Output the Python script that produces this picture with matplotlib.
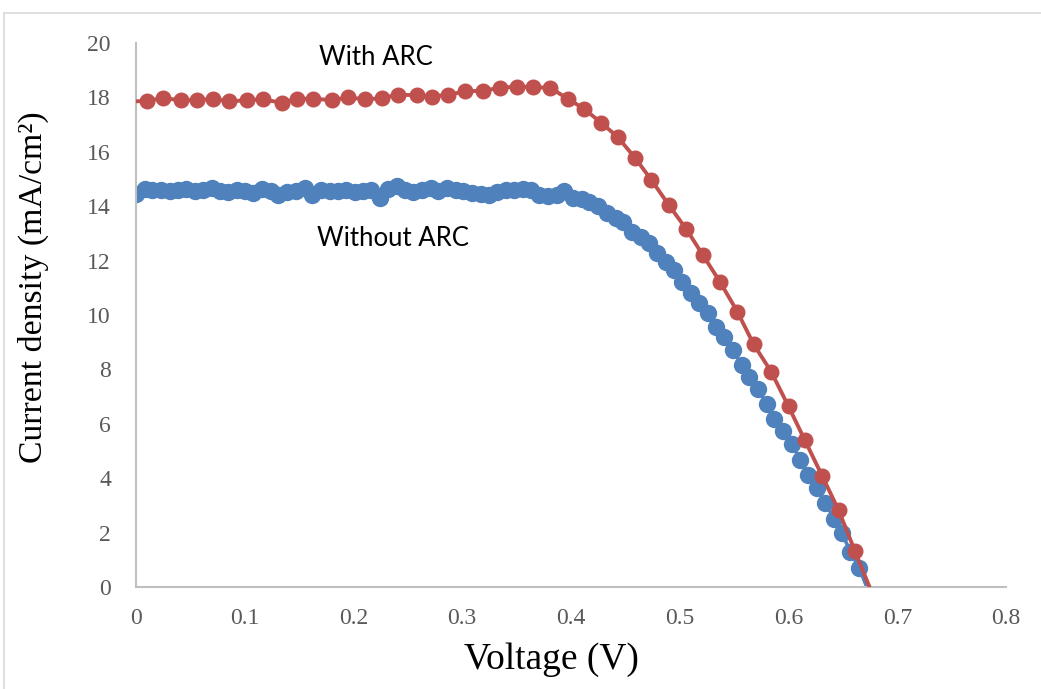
import matplotlib
matplotlib.use("Agg")
import matplotlib.pyplot as plt
from matplotlib.lines import Line2D

# J-V sweep, cell with anti-reflection coating (first and last points lie outside the axes)
v_arc = [-0.005, 0.010, 0.025, 0.041, 0.056, 0.071, 0.086, 0.102, 0.117, 0.134, 0.148,
         0.163, 0.180, 0.195, 0.211, 0.226, 0.241, 0.258, 0.272, 0.287, 0.303,
         0.319, 0.335, 0.350, 0.365, 0.381, 0.397, 0.412, 0.428, 0.443, 0.459,
         0.474, 0.490, 0.506, 0.521, 0.537, 0.553, 0.568, 0.584, 0.600, 0.615,
         0.631, 0.646, 0.661, 0.677]
j_arc = [17.85, 17.87, 17.97, 17.90, 17.90, 17.95, 17.85, 17.90, 17.93, 17.80, 17.95,
         17.95, 17.90, 18.00, 17.93, 17.97, 18.10, 18.08, 18.03, 18.10, 18.22,
         18.25, 18.35, 18.40, 18.38, 18.35, 17.95, 17.58, 17.06, 16.54, 15.77,
         14.96, 14.04, 13.16, 12.22, 11.22, 10.12, 8.92, 7.92, 6.64, 5.40,
         4.08, 2.83, 1.33, -0.25]

# J-V sweep, bare cell (last point lies below the axis)
v_bare = [0.000, 0.008, 0.015, 0.023, 0.031, 0.039, 0.046, 0.054, 0.062, 0.070,
          0.077, 0.085, 0.093, 0.100, 0.108, 0.116, 0.124, 0.131, 0.139, 0.147,
          0.155, 0.162, 0.170, 0.178, 0.186, 0.193, 0.201, 0.209, 0.216, 0.224,
          0.232, 0.240, 0.247, 0.255, 0.263, 0.271, 0.278, 0.286, 0.294, 0.301,
          0.309, 0.317, 0.325, 0.332, 0.340, 0.348, 0.356, 0.363, 0.371, 0.379,
          0.387, 0.394, 0.402, 0.410, 0.417, 0.425, 0.433, 0.441, 0.448, 0.456,
          0.464, 0.472, 0.479, 0.487, 0.495, 0.502, 0.510, 0.518, 0.526, 0.533,
          0.541, 0.549, 0.557, 0.564, 0.572, 0.580, 0.587, 0.595, 0.603, 0.611,
          0.618, 0.626, 0.634, 0.642, 0.649, 0.657, 0.665, 0.6725]
j_bare = [14.45, 14.62, 14.60, 14.58, 14.56, 14.60, 14.62, 14.55, 14.58, 14.66,
          14.56, 14.52, 14.58, 14.55, 14.50, 14.62, 14.55, 14.40, 14.52, 14.56,
          14.66, 14.42, 14.58, 14.55, 14.55, 14.60, 14.52, 14.55, 14.60, 14.30,
          14.63, 14.75, 14.60, 14.52, 14.60, 14.68, 14.55, 14.68, 14.60, 14.55,
          14.48, 14.45, 14.40, 14.52, 14.58, 14.58, 14.62, 14.60, 14.40, 14.36,
          14.42, 14.55, 14.30, 14.25, 14.15, 14.00, 13.75, 13.57, 13.42, 13.05,
          12.85, 12.65, 12.28, 11.95, 11.65, 11.20, 10.80, 10.44, 10.07, 9.55,
          9.19, 8.71, 8.16, 7.72, 7.28, 6.73, 6.18, 5.74, 5.26, 4.67,
          4.12, 3.64, 3.09, 2.50, 1.99, 1.29, 0.70, -0.05]

x_ticks = [0, 0.1, 0.2, 0.3, 0.4, 0.5, 0.6, 0.7, 0.8]
x_tick_labels = ["0", "0.1", "0.2", "0.3", "0.4", "0.5", "0.6", "0.7", "0.8"]
y_ticks = [0, 2, 4, 6, 8, 10, 12, 14, 16, 18, 20]

RED = "#C0504D"
BLUE = "#4F81BD"
SERIF = ["Liberation Serif", "DejaVu Serif"]
SANS = ["Lato", "DejaVu Sans"]

fig = plt.figure(figsize=(10.41, 6.89), dpi=100)
ax = fig.add_axes([0.1306, 0.148, 0.8358, 0.7896])

# bare cell: dense markers
ax.plot(v_bare, j_bare, color=BLUE, lw=2.6, zorder=2,
        marker="o", ms=11.5, mfc=BLUE, mec=BLUE,
        markevery=list(range(len(v_bare) - 1)))
# ARC cell
ax.plot(v_arc, j_arc, color=RED, lw=2.8, zorder=3,
        marker="o", ms=10.5, mfc=RED, mec=RED,
        markevery=list(range(1, len(v_arc) - 1)))

ax.set_xlim(0, 0.8)
ax.set_ylim(0, 20)
ax.set_xticks(x_ticks)
ax.set_xticklabels(x_tick_labels)
ax.set_yticks(y_ticks)
ax.tick_params(axis="y", length=0, pad=18, labelsize=17, labelcolor="#595959")
ax.tick_params(axis="x", length=0, pad=15, labelsize=17, labelcolor="#595959")
for lab in ax.get_xticklabels() + ax.get_yticklabels():
    lab.set_family(SERIF)

for side in ("top", "right"):
    ax.spines[side].set_visible(False)
for side in ("left", "bottom"):
    ax.spines[side].set_color("#BFBFBF")
    ax.spines[side].set_linewidth(1.5)

ax.set_xlabel("Voltage (V)", family=SERIF, fontsize=27)
ax.set_ylabel("Current density (mA/cm²)", family=SERIF, fontsize=24.3)
ax.xaxis.set_label_coords(0.477, -0.102)
ax.yaxis.set_label_coords(-0.1, 0.551)

ax.text(0.2202, 19.45, "With ARC", family=SANS, fontsize=18.5,
        ha="center", va="center")
ax.text(0.2359, 12.8, "Without ARC", family=SANS, fontsize=18.5,
        ha="center", va="center")

# light frame around the chart area
fig.add_artist(Line2D([4 / 1041, 4 / 1041], [0, 1 - 13 / 689],
                      transform=fig.transFigure, color="#D9D9D9", lw=1.2))
fig.add_artist(Line2D([4 / 1041, 1], [1 - 13 / 689, 1 - 13 / 689],
                      transform=fig.transFigure, color="#D9D9D9", lw=1.2))

fig.savefig("out.png", dpi=100)
